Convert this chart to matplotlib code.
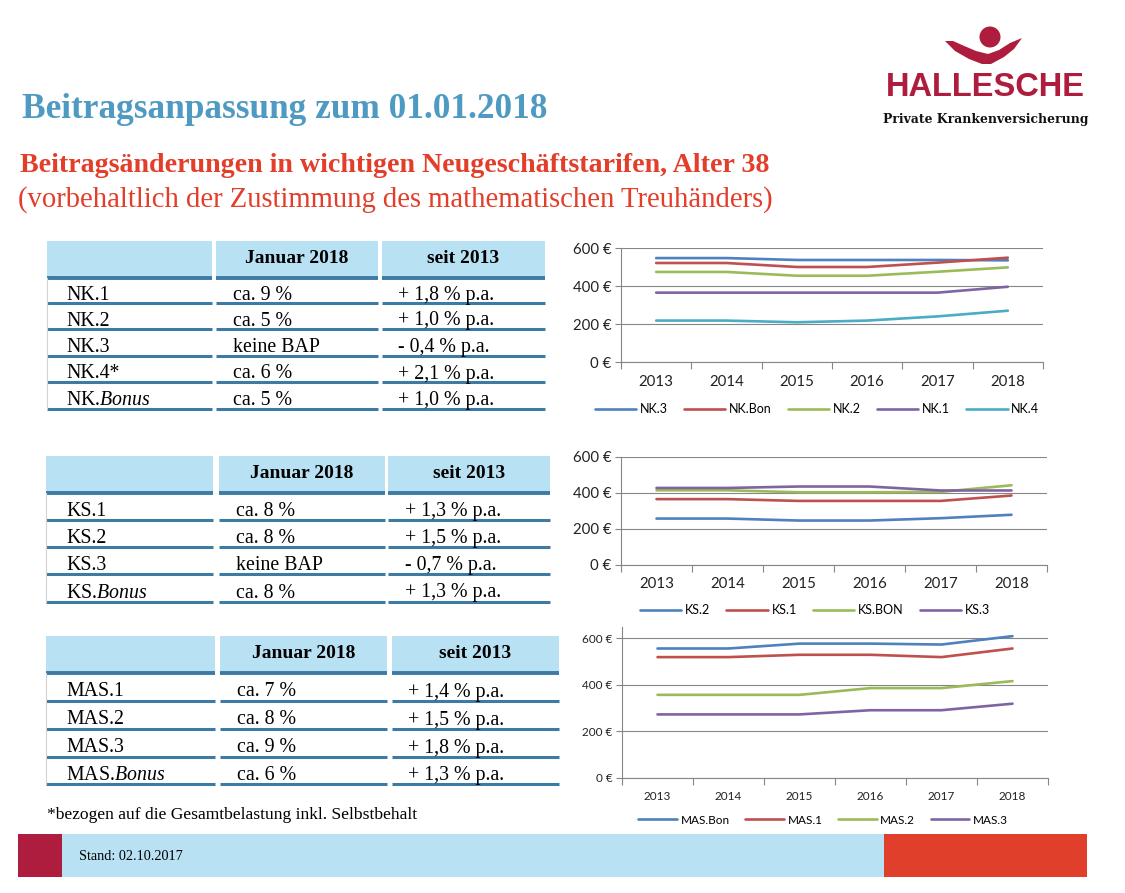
import numpy as np
import matplotlib
matplotlib.use("Agg")
import matplotlib.pyplot as plt
from matplotlib.patches import Rectangle, Polygon, Circle

W, H = 1125, 893

plt.rcParams['mathtext.fontset'] = 'custom'
plt.rcParams['mathtext.rm'] = 'Liberation Serif'
plt.rcParams['mathtext.it'] = 'Liberation Serif:italic'

# ---- data -----------------------------------------------------------
years = ['2013', '2014', '2015', '2016', '2017', '2018']

nk_names = ['NK.3', 'NK.Bon', 'NK.2', 'NK.1', 'NK.4']
nk3 = [547, 547, 537, 537, 537, 535]
nk_bon = [521, 521, 500, 500, 523, 549]
nk2 = [474, 474, 454, 454, 475, 498]
nk1 = [365, 365, 365, 365, 365, 396]
nk4 = [218, 218, 209, 218, 240, 270]

ks_names = ['KS.2', 'KS.1', 'KS.BON', 'KS.3']
ks2 = [258, 258, 247, 247, 260, 279]
ks1 = [366, 366, 356, 356, 356, 386]
ks_bon = [415, 415, 404, 404, 406, 443]
ks3 = [428, 428, 436, 436, 414, 414]

mas_names = ['MAS.Bon', 'MAS.1', 'MAS.2', 'MAS.3']
mas_bon = [556, 556, 577, 577, 573, 609]
mas1 = [519, 519, 529, 529, 519, 556]
mas2 = [357, 357, 357, 386, 386, 416]
mas3 = [273, 273, 273, 291, 291, 319]

nk_rows = ['NK.1', 'NK.2', 'NK.3', 'NK.4*', r'NK.$\mathit{Bonus}$']
nk_jan = ['ca. 9 %', 'ca. 5 %', 'keine BAP', 'ca. 6 %', 'ca. 5 %']
nk_seit = ['+ 1,8 % p.a.', '+ 1,0 % p.a.', '- 0,4 % p.a.', '+ 2,1 % p.a.', '+ 1,0 % p.a.']

ks_rows = ['KS.1', 'KS.2', 'KS.3', r'KS.$\mathit{Bonus}$']
ks_jan = ['ca. 8 %', 'ca. 8 %', 'keine BAP', 'ca. 8 %']
ks_seit = ['+ 1,3 % p.a.', '+ 1,5 % p.a.', '- 0,7 % p.a.', '+ 1,3 % p.a.']

mas_rows = ['MAS.1', 'MAS.2', 'MAS.3', r'MAS.$\mathit{Bonus}$']
mas_jan = ['ca. 7 %', 'ca. 8 %', 'ca. 9 %', 'ca. 6 %']
mas_seit = ['+ 1,4 % p.a.', '+ 1,5 % p.a.', '+ 1,8 % p.a.', '+ 1,3 % p.a.']

header = ['Januar 2018', 'seit 2013']

# ---- colours --------------------------------------------------------
XL_COLORS = ['#4F81BD', '#C0504D', '#9BBB59', '#8064A2', '#4BACC6']
HEAD_BLUE = '#B9E1F4'
LINE_BLUE = '#3D7AA4'
TITLE_BLUE = '#4F9AC3'
SUB_RED = '#E23E2A'
DARK_RED = '#AE1C3E'
ORANGE = '#E03F2B'
GRID = '#868686'
SERIF = 'Liberation Serif'
CHART_FONT = 'Lato'


def draw_table(bg, cols, top, head_bottom, row_lines, text_x, names, jan, seit):
    for x0, x1 in cols:
        bg.add_patch(Rectangle((x0, top), x1 - x0, head_bottom - top,
                               color=HEAD_BLUE, lw=0))
        bg.plot([x0, x1], [head_bottom, head_bottom], color=LINE_BLUE,
                lw=2.8, solid_capstyle='butt')
        for y in row_lines:
            bg.plot([x0, x1], [y, y], color=LINE_BLUE, lw=2.2,
                    solid_capstyle='butt')
    # thin left border
    bg.plot([cols[0][0], cols[0][0]], [head_bottom, row_lines[-1]],
            color='#D4D4D4', lw=0.8)
    head_y = (top + head_bottom) / 2 - 1
    for (x0, x1), label in zip(cols[1:], header):
        bg.text((x0 + x1) / 2, head_y, label, ha='center', va='center',
                fontsize=14, fontweight='bold', family=SERIF)
    prev = head_bottom
    for i, y in enumerate(row_lines):
        yc = (prev + y) / 2 + 5
        for x, txt in zip(text_x, [names[i], jan[i], seit[i]]):
            bg.text(x, yc, txt, ha='left', va='center', fontsize=14.3,
                    family=SERIF)
        prev = y


def draw_chart(fig, x0, x1, y_top, y_bottom, ymax, series, names,
               legend_x, legend_y, tick_fs, legend_fs):
    ax = fig.add_axes([x0 / W, 1 - y_bottom / H, (x1 - x0) / W,
                       (y_bottom - y_top) / H])
    x = np.arange(len(years))
    for vals, name, c in zip(series, names, XL_COLORS):
        ax.plot(x, vals, color=c, lw=1.9, label=name, solid_capstyle='round')
    ax.set_xlim(-0.5, len(years) - 0.5)
    ax.set_ylim(0, ymax)
    ax.set_yticks([0, 200, 400, 600])
    ax.set_yticklabels(['0 €', '200 €', '400 €', '600 €'])
    ax.set_xticks(x)
    ax.set_xticklabels(years)
    ax.set_xticks(np.arange(-0.5, len(years)), minor=True)
    ax.tick_params(axis='x', which='major', length=0, pad=9,
                   labelsize=tick_fs, labelcolor='#222222')
    ax.tick_params(axis='x', which='minor', length=5, width=0.8,
                   color=GRID, direction='out')
    ax.tick_params(axis='y', length=4, width=0.8, color=GRID,
                   labelsize=tick_fs, labelcolor='#222222', pad=3)
    for lab in ax.get_xticklabels() + ax.get_yticklabels():
        lab.set_family(CHART_FONT)
    ax.grid(axis='y', color=GRID, lw=0.8)
    ax.set_axisbelow(True)
    for s in ['top', 'right']:
        ax.spines[s].set_visible(False)
    for s in ['left', 'bottom']:
        ax.spines[s].set_color(GRID)
        ax.spines[s].set_linewidth(0.8)
    ax.set_facecolor('none')
    ax.legend(ncol=len(names), loc='center',
              bbox_to_anchor=(legend_x / W, 1 - legend_y / H),
              bbox_transform=fig.transFigure, frameon=False,
              handlelength=3.3, columnspacing=1.3, handletextpad=0.3,
              prop={'family': CHART_FONT, 'size': legend_fs})
    return ax


fig = plt.figure(figsize=(W / 100, H / 100), dpi=100)
fig.patch.set_facecolor('white')
bg = fig.add_axes([0, 0, 1, 1])
bg.set_xlim(0, W)
bg.set_ylim(H, 0)
bg.axis('off')

# titles
bg.text(22, 109, 'Beitragsanpassung zum 01.01.2018', ha='left', va='center',
        fontsize=25.4, fontweight='bold', color=TITLE_BLUE, family=SERIF)
bg.text(20, 166, 'Beitragsänderungen in wichtigen Neugeschäftstarifen, Alter 38',
        ha='left', va='center', fontsize=20.2, fontweight='bold', color=SUB_RED,
        family=SERIF)
bg.text(18, 200, '(vorbehaltlich der Zustimmung des mathematischen Treuhänders)',
        ha='left', va='center', fontsize=20.6, color=SUB_RED, family=SERIF)

# logo
bg.add_patch(Circle((990, 37), 10.5, color=DARK_RED, lw=0))
bg.add_patch(Polygon([(945, 41), (955, 51), (969, 59), (982, 64), (991, 64),
                      (1004, 57), (1014, 49), (1022, 38), (1010, 43),
                      (999, 50), (988, 54), (976, 51), (962, 45), (953, 41)],
                     closed=True, color=DARK_RED, lw=0))
bg.text(985, 88, 'HALLESCHE', ha='center', va='center', fontsize=23.5,
        fontweight='bold', color=DARK_RED, family='Liberation Sans')
bg.text(986, 119, 'Private Krankenversicherung', ha='center', va='center',
        fontsize=8.9, fontweight='bold', color='#111111', family='DejaVu Serif')

# tables
draw_table(bg, [(47, 212), (216, 378), (382, 545)], 241, 278,
           [303, 329, 356, 382, 409], [66, 233, 398],
           nk_rows, nk_jan, nk_seit)
draw_table(bg, [(46, 213), (219, 385), (388, 550)], 456, 493,
           [520, 547, 574, 602], [66, 236, 405],
           ks_rows, ks_jan, ks_seit)
draw_table(bg, [(46, 215), (220, 387), (392, 559)], 636, 673,
           [701, 729, 757, 784], [66, 237, 408],
           mas_rows, mas_jan, mas_seit)

bg.text(47, 815, '*bezogen auf die Gesamtbelastung inkl. Selbstbehalt',
        ha='left', va='center', fontsize=12.6, family=SERIF)

# footer bar
bg.add_patch(Rectangle((18, 834), 44, 43, color=DARK_RED, lw=0))
bg.add_patch(Rectangle((62, 834), 822, 43, color=HEAD_BLUE, lw=0))
bg.add_patch(Rectangle((884, 834), 203, 43, color=ORANGE, lw=0))
bg.text(79, 857, 'Stand: 02.10.2017', ha='left', va='center', fontsize=10.3,
        family=SERIF)

# charts
draw_chart(fig, 621, 1043, 248, 362, 600,
           [nk3, nk_bon, nk2, nk1, nk4], nk_names, 817, 409, 10.8, 9)
draw_chart(fig, 621, 1047, 457, 565, 600,
           [ks2, ks1, ks_bon, ks3], ks_names, 815, 610, 10.8, 9)
draw_chart(fig, 622, 1048, 626.6, 778, 650,
           [mas_bon, mas1, mas2, mas3], mas_names, 823, 820, 8.5, 8.5)

fig.savefig('out.png', dpi=100, facecolor='white')
